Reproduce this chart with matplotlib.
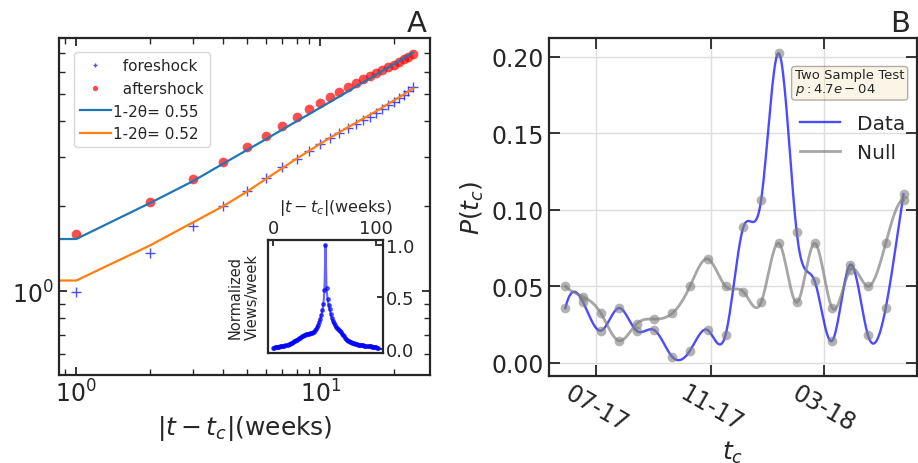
import numpy as np
import pandas as pd
import matplotlib
matplotlib.use("Agg")
import matplotlib.pyplot as plt
import matplotlib.dates as mdates
from matplotlib.ticker import NullFormatter, FormatStrFormatter

# ---- panel A data: cumulative views vs |t - t_c| ----
weeks = np.arange(1, 25)
foreshock = [0.99, 1.37, 1.70, 2.00, 2.27, 2.52, 2.75, 2.95, 3.14, 3.33, 3.49, 3.64,
             3.78, 3.91, 4.04, 4.16, 4.29, 4.42, 4.57, 4.69, 4.82, 4.95, 5.11, 5.28]
aftershock = [1.59, 2.07, 2.49, 2.87, 3.23, 3.55, 3.86, 4.14, 4.41, 4.64, 4.86, 5.07,
              5.28, 5.47, 5.63, 5.79, 5.93, 6.08, 6.21, 6.35, 6.49, 6.63, 6.77, 6.92]

# fitted curves (x starts at 0, which the log axis clips -> flat start)
fit_x = np.arange(0, 25)
fit_after = [0.37, 1.53, 2.05, 2.45, 2.83, 3.16, 3.46, 3.74, 4.00, 4.24, 4.47, 4.69,
             4.90, 5.11, 5.31, 5.50, 5.68, 5.86, 6.04, 6.21, 6.38, 6.54, 6.70, 6.86, 7.02]
fit_fore = [0.11, 1.09, 1.45, 1.75, 2.00, 2.25, 2.50, 2.73, 2.95, 3.14, 3.33, 3.50,
            3.66, 3.81, 3.95, 4.09, 4.22, 4.35, 4.48, 4.61, 4.74, 4.86, 4.98, 5.11, 5.23]

# inset: normalized weekly views
inset_views = [0.012, 0.014, 0.016, 0.018, 0.019, 0.021, 0.023, 0.025, 0.027, 0.029,
               0.031, 0.033, 0.036, 0.039, 0.042, 0.046, 0.050, 0.055, 0.060, 0.066,
               0.072, 0.078, 0.084, 0.090, 0.096, 0.102, 0.108, 0.114, 0.120, 0.126,
               0.131, 0.136, 0.140, 0.143, 0.146, 0.148, 0.150, 0.152, 0.155, 0.159,
               0.165, 0.180, 0.190, 0.210, 0.235, 0.260, 0.290, 0.330, 0.370, 0.430,
               0.570, 1.000, 0.590, 0.480, 0.420, 0.380, 0.340, 0.300, 0.270, 0.245,
               0.230, 0.215, 0.205, 0.195, 0.185, 0.175, 0.162, 0.148, 0.135, 0.122,
               0.110, 0.098, 0.088, 0.080, 0.074, 0.069, 0.065, 0.061, 0.057, 0.053,
               0.050, 0.047, 0.045, 0.043, 0.041, 0.039, 0.037, 0.035, 0.034, 0.032,
               0.031, 0.030, 0.028, 0.027, 0.025, 0.024, 0.022, 0.021, 0.019, 0.017,
               0.015, 0.013, 0.011]

# ---- panel B data: P(t_c) ----
tc_dates = ["2017-05-29", "2017-06-17", "2017-07-06", "2017-07-25", "2017-08-13",
            "2017-09-01", "2017-09-20", "2017-10-09", "2017-10-28", "2017-11-16",
            "2017-12-05", "2017-12-24", "2018-01-12", "2018-01-31", "2018-02-19",
            "2018-03-10", "2018-03-29", "2018-04-17", "2018-05-06", "2018-05-25"]
p_data = [0.0357, 0.0394, 0.0209, 0.0357, 0.0209, 0.0213, 0.0039, 0.0078, 0.0213, 0.0181,
          0.0885, 0.1063, 0.2022, 0.0852, 0.0536, 0.0144, 0.0640, 0.0181, 0.0357, 0.1101]
p_null = [0.0499, 0.0431, 0.0322, 0.0144, 0.0253, 0.0285, 0.0322, 0.0499, 0.0678, 0.0499,
          0.0464, 0.0394, 0.0780, 0.0394, 0.0780, 0.0357, 0.0605, 0.0499, 0.0780, 0.1062]


def spline(x, y, xs):
    # not-a-knot cubic spline, like the smoothed curves in the original
    x = np.asarray(x, float)
    y = np.asarray(y, float)
    n = len(x)
    h = np.diff(x)
    A = np.zeros((n, n))
    b = np.zeros(n)
    A[0, 0], A[0, 1], A[0, 2] = h[1], -(h[0] + h[1]), h[0]
    A[-1, -3], A[-1, -2], A[-1, -1] = h[-1], -(h[-2] + h[-1]), h[-2]
    for i in range(1, n - 1):
        A[i, i - 1] = h[i - 1]
        A[i, i] = 2 * (h[i - 1] + h[i])
        A[i, i + 1] = h[i]
        b[i] = 6 * ((y[i + 1] - y[i]) / h[i] - (y[i] - y[i - 1]) / h[i - 1])
    M = np.linalg.solve(A, b)
    idx = np.clip(np.searchsorted(x, xs) - 1, 0, n - 2)
    x0, x1 = x[idx], x[idx + 1]
    hh = x1 - x0
    return (M[idx] * (x1 - xs) ** 3 / (6 * hh) + M[idx + 1] * (xs - x0) ** 3 / (6 * hh)
            + (y[idx] / hh - M[idx] * hh / 6) * (x1 - xs)
            + (y[idx + 1] / hh - M[idx + 1] * hh / 6) * (xs - x0))


dark = "#262626"
plt.rcParams.update({
    "font.family": "DejaVu Sans",
    "text.color": dark, "axes.labelcolor": dark,
    "xtick.color": dark, "ytick.color": dark,
    "axes.edgecolor": dark, "axes.linewidth": 1.6,
    "xtick.direction": "in", "ytick.direction": "in",
    "xtick.major.width": 1.3, "ytick.major.width": 1.3,
    "xtick.minor.width": 1.0, "ytick.minor.width": 1.0,
})

fig = plt.figure(figsize=(9.18, 4.64), dpi=100)

# ---------------- panel A ----------------
ax = fig.add_axes([0.0643, 0.1897, 0.4041, 0.7263])
ax.plot(weeks, foreshock, '+', color='blue', alpha=0.7, ms=6.5, mew=1.0, label='  foreshock')
ax.plot(weeks, aftershock, 'o', color='red', alpha=0.7, ms=7, mew=0, label='  aftershock')
ax.plot(fit_x, fit_after, color='#1f77b4', lw=1.6, label='1-2θ= 0.55')
ax.plot(fit_x, fit_fore, color='#ff7f0e', lw=1.6, label='1-2θ= 0.52')
ax.set_xscale('log', nonpositive='clip')
ax.set_yscale('log', nonpositive='clip')
ax.set_xlim(0.85, 28.2)
ax.set_ylim(0.504, 7.9)
ax.yaxis.set_minor_formatter(NullFormatter())
ax.xaxis.set_minor_formatter(NullFormatter())
ax.tick_params(which='both', top=True, right=True, labelsize=17)
ax.tick_params(which='major', length=6)
ax.tick_params(which='minor', length=4)
ax.set_xlabel(r'$|t-t_c|$(weeks)', fontsize=18)
ax.legend(loc='upper left', bbox_to_anchor=(0.02, 0.98), fontsize=11,
          handletextpad=0.15, markerscale=0.55)
fig.text(0.454, 0.948, 'A', fontsize=21, ha='center', va='center')

# inset
ins = fig.add_axes([0.2919, 0.2371, 0.1253, 0.2442])
ins.plot(np.arange(len(inset_views)), inset_views, '.-', color='blue', alpha=0.6,
         ms=5, lw=1.5)
ins.xaxis.tick_top()
ins.xaxis.set_label_position('top')
ins.yaxis.tick_right()
ins.set_xticks([0, 100])
ins.set_yticks([0.0, 0.5, 1.0])
ins.yaxis.set_major_formatter(FormatStrFormatter('%.1f'))
ins.tick_params(labelsize=13, length=4, pad=2)
ins.set_xlabel(r'$|t-t_c|$(weeks)', fontsize=11.5)
ins.xaxis.set_label_coords(0.59, 1.25)
ins.set_ylabel('Normalized\nViews/week', fontsize=10.5, labelpad=6)

# ---------------- panel B ----------------
bx = fig.add_axes([0.598, 0.1875, 0.401, 0.7284])
tc = mdates.date2num(pd.to_datetime(tc_dates))
ts = np.linspace(tc[0], tc[-1], 400)
bx.plot(ts, spline(tc, p_data, ts), color='blue', alpha=0.7, lw=1.7, label='Data')
bx.plot(ts, spline(tc, p_null, ts), color='gray', alpha=0.7, lw=2.0, label='Null')
bx.plot(tc, p_data, 'o', color='gray', alpha=0.6, ms=7, mew=0)
bx.plot(tc, p_null, 'o', color='gray', alpha=0.6, ms=7, mew=0)
bx.set_xlim(tc[0] - 17.5, tc[-1] + 14.5)
bx.set_ylim(-0.0087, 0.2122)
bx.xaxis.set_major_locator(mdates.MonthLocator(bymonth=[3, 7, 11]))
bx.xaxis.set_major_formatter(mdates.DateFormatter('%m-%y'))
bx.set_yticks([0.0, 0.05, 0.10, 0.15, 0.20])
bx.yaxis.set_major_formatter(FormatStrFormatter('%.2f'))
bx.grid(True, color='#dddddd', lw=1.0)
bx.set_axisbelow(True)
bx.tick_params(top=True, right=True, labelsize=17, length=8)
plt.setp(bx.get_xticklabels(), rotation=-30, ha='center')
bx.set_xlabel(r'$t_c$', fontsize=18)
bx.xaxis.set_label_coords(0.5, -0.185)
bx.set_ylabel(r'$P(t_c)$', fontsize=18)
bx.text(0.668, 0.912, 'Two Sample Test\n' + r'$p: 4.7e-04$', transform=bx.transAxes,
        fontsize=9.5, va='top', ha='left', linespacing=1.0,
        bbox=dict(boxstyle='round,pad=0.25', facecolor='wheat', alpha=0.3))
bx.legend(loc='upper right', bbox_to_anchor=(1.016, 0.83), fontsize=14.5, frameon=False)
fig.text(0.980, 0.948, 'B', fontsize=21, ha='center', va='center')

fig.savefig('out.png', dpi=100)
